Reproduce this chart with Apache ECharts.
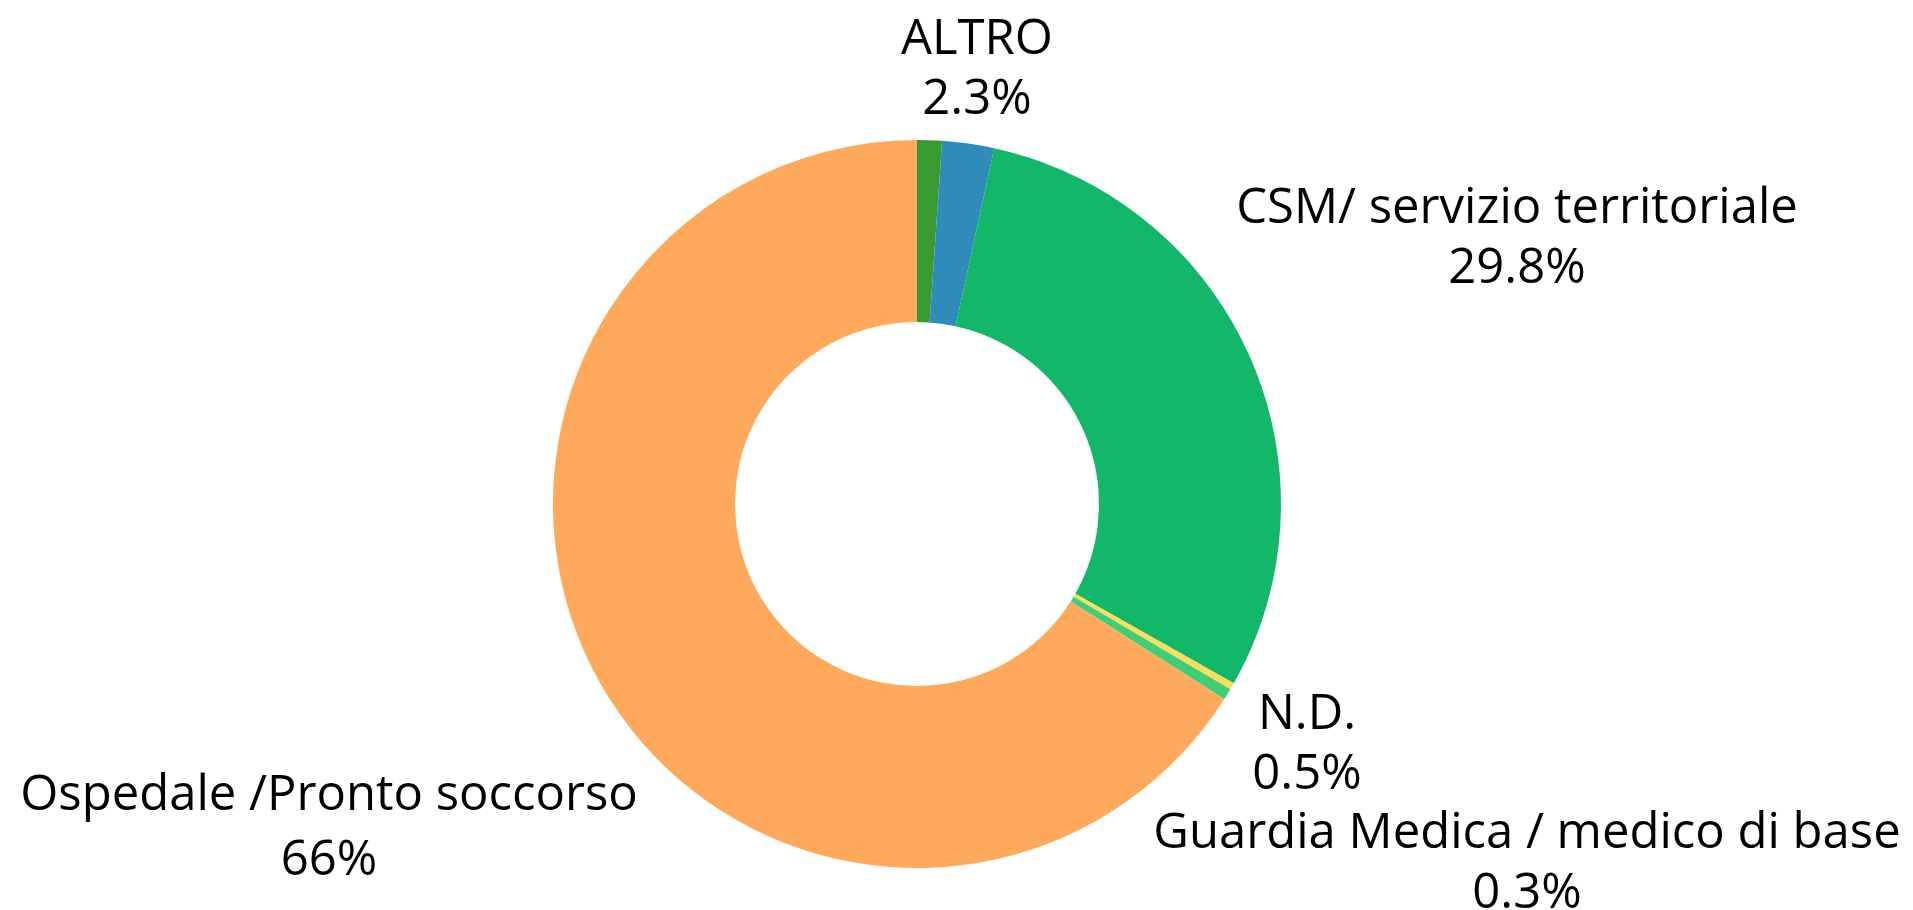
<!DOCTYPE html>
<html>
<head>
<meta charset="utf-8">
<style>
html, body { margin: 0; padding: 0; background: #fff; }
#main { width: 1913px; height: 910px; }
</style>
<script src="https://cdn.jsdelivr.net/npm/echarts@6/dist/echarts.min.js"></script>
</head>
<body>
<div id="main"></div>
<script>
// data, clockwise from the top
var categories = ['', 'ALTRO', 'CSM/ servizio territoriale', 'Guardia Medica / medico di base', 'N.D.', 'Ospedale /Pronto soccorso'];
var percents = [1.1, 2.3, 29.8, 0.3, 0.5, 66];
var colors = ['#389a30', '#2e8bba', '#12b76a', '#fbdc5c', '#3fcd76', '#fea95c'];

var myChart = echarts.init(document.getElementById('main'));

var pieData = [];
for (var i = 0; i < categories.length; i++) {
    pieData.push({
        name: categories[i],
        value: percents[i],
        itemStyle: { color: colors[i] },
        label: { show: categories[i] !== '' }
    });
}
// the big slice label has a little more space between its lines
pieData[5].label.lineHeight = 65;

// where each label block sits (centre of the text)
var labelAt = {
    1: [977, 70],
    2: [1517, 239],
    3: [1527, 864],
    4: [1307, 745],
    5: [329, 829]
};

myChart.setOption({
    animation: false,
    series: [{
        type: 'pie',
        center: [917, 504],
        radius: ['40%', '80%'],
        startAngle: 90,
        clockwise: true,
        avoidLabelOverlap: false,
        itemStyle: { borderWidth: 0 },
        label: {
            show: true,
            position: 'outside',
            fontFamily: 'Open Sans',
            fontSize: 49,
            lineHeight: 60,
            color: '#000',
            formatter: function (p) {
                return p.name + '\n' + Number(p.value.toFixed(1)) + '%';
            }
        },
        labelLine: { show: false },
        labelLayout: function (params) {
            var pos = labelAt[params.dataIndex];
            if (!pos) return {};
            return { x: pos[0], y: pos[1], align: 'center', verticalAlign: 'middle' };
        },
        emphasis: { disabled: true },
        data: pieData
    }]
});
</script>
</body>
</html>
